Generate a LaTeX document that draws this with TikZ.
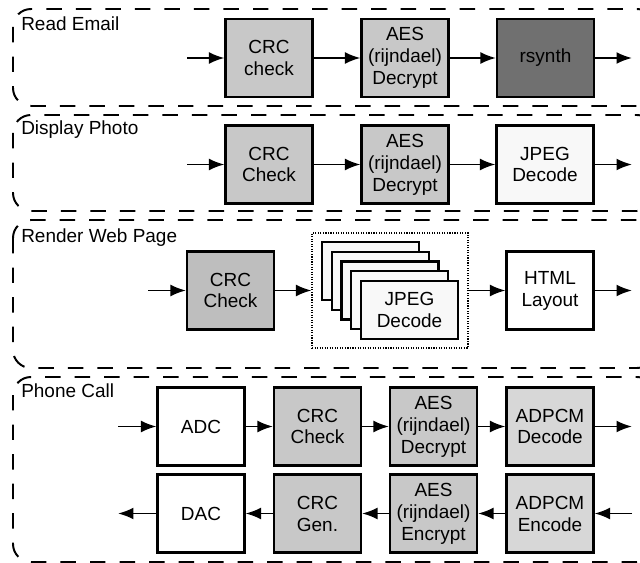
\documentclass[tikz,border=0pt]{standalone}
\usepackage{fontspec}
\setmainfont{Liberation Sans}
\usetikzlibrary{arrows.meta}
\definecolor{stagegray}{RGB}{200,200,200}
\definecolor{crcdark}{RGB}{190,190,190}
\definecolor{codecgray}{RGB}{215,215,215}
\definecolor{synthgray}{RGB}{112,112,112}
\definecolor{paper}{RGB}{248,248,248}

\begin{document}
\begin{tikzpicture}[x=0.025cm,y=-0.025cm,
  blk/.style={draw,line width=1.5pt,minimum width=2.175cm,minimum height=1.95cm,inner sep=0pt,align=center,font=\fontsize{13.5}{15.6}\selectfont},
  wideblk/.style={blk,minimum width=2.425cm},
  card/.style={blk,fill=paper,minimum width=2.425cm,minimum height=1.45cm},
  lane/.style={line width=1.4pt,dash pattern=on 11pt off 10pt,rounded corners=0.45cm},
  flow/.style={line width=1.4pt,-{Latex[length=11pt,width=8.5pt]}},
  lanename/.style={anchor=base west,inner sep=0pt,font=\fontsize{13.5}{15.6}\selectfont}]
\clip (0,0) rectangle (640,563);

\draw[lane] (13,9) rectangle (655,106);
\draw[lane] (13,115) rectangle (655,211);
\draw[lane] (13,220) rectangle (655,368);
\draw[lane] (13,377) rectangle (655,562);
\node[lanename] (nameA) at (21,31) {Read Email};
\node[lanename] (nameB) at (21,135) {Display Photo};
\node[lanename] (nameC) at (21,243) {Render Web Page};
\node[lanename] (nameD) at (21,398) {Phone Call};

% Read Email
\coordinate (inA) at (187,58); \coordinate (outA) at (632,58);
\node[blk,fill=stagegray] (crcA) at (269,58) {CRC\\check};
\node[blk,fill=stagegray] (aesA) at (405,58) {AES\\(rijndael)\\Decrypt};
\node[wideblk,fill=synthgray] (synth) at (545.5,58) {rsynth};
\draw[flow] (inA) -- (crcA);
\draw[flow] (crcA) -- (aesA);
\draw[flow] (aesA) -- (synth);
\draw[flow] (synth) -- (outA);

% Display Photo
\coordinate (inB) at (187,164.5); \coordinate (outB) at (632,164.5);
\node[blk,fill=stagegray] (crcB) at (269,164.5) {CRC\\Check};
\node[blk,fill=stagegray] (aesB) at (405,164.5) {AES\\(rijndael)\\Decrypt};
\node[wideblk,fill=paper] (jpegB) at (545,164.5) {JPEG\\Decode};
\draw[flow] (inB) -- (crcB);
\draw[flow] (crcB) -- (aesB);
\draw[flow] (aesB) -- (jpegB);
\draw[flow] (jpegB) -- (outB);

% Render Web Page
\coordinate (inC) at (148,290.5); \coordinate (outC) at (632,290.5);
\node[blk,fill=crcdark] (crcC) at (230.5,290.5) {CRC\\Check};
\node[draw,densely dotted,line width=0.8pt,minimum width=3.9cm,minimum height=2.875cm] (decoders) at (390,290.5) {};
\foreach \k in {0,...,3}
  \node[card] (card\k) at ({370.5+9.75*\k},{271+9.75*\k}) {};
\node[card] (card4) at (409.5,310) {JPEG\\Decode};
\node[blk,fill=white] (html) at (550,290.5) {HTML\\Layout};
\draw[flow] (inC) -- (crcC);
\draw[flow] (crcC) -- (decoders);
\draw[flow] (decoders) -- (html);
\draw[flow] (html) -- (outC);

% Phone Call
\coordinate (inD) at (118,426.5); \coordinate (outD) at (632,426.5);
\coordinate (inE) at (632,513.5); \coordinate (outE) at (118,513.5);
\node[blk,fill=white] (adc) at (201,426.5) {ADC};
\node[blk,fill=stagegray] (crcD) at (317.5,426.5) {CRC\\Check};
\node[blk,fill=stagegray] (aesD) at (433.5,426.5) {AES\\(rijndael)\\Decrypt};
\node[blk,fill=codecgray] (adpcmD) at (550,426.5) {ADPCM\\Decode};
\node[blk,fill=white] (dac) at (201,513.5) {DAC};
\node[blk,fill=stagegray] (crcE) at (317.5,513.5) {CRC\\Gen.};
\node[blk,fill=stagegray] (aesE) at (433.5,513.5) {AES\\(rijndael)\\Encrypt};
\node[blk,fill=codecgray] (adpcmE) at (550,513.5) {ADPCM\\Encode};
\draw[flow] (inD) -- (adc);
\draw[flow] (adc) -- (crcD);
\draw[flow] (crcD) -- (aesD);
\draw[flow] (aesD) -- (adpcmD);
\draw[flow] (adpcmD) -- (outD);
\draw[flow] (inE) -- (adpcmE);
\draw[flow] (adpcmE) -- (aesE);
\draw[flow] (aesE) -- (crcE);
\draw[flow] (crcE) -- (dac);
\draw[flow] (dac) -- (outE);
\end{tikzpicture}
\end{document}
